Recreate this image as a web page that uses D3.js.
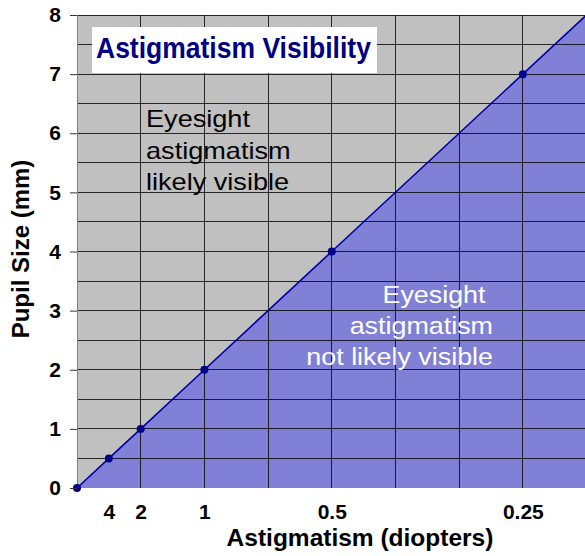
<!DOCTYPE html>
<html>
<head>
<meta charset="utf-8">
<script src="https://cdn.jsdelivr.net/npm/d3@7"></script>
<style>
  body { margin: 0; background: #fff; }
  text { font-family: "Liberation Sans", Arial, sans-serif; }
</style>
</head>
<body>
<svg id="chart" width="585" height="556"></svg>
<script>
// axis position (linear) and pupil size for each point on the boundary line
const axisPos = [0, 0.5, 1, 2, 4, 7, 8]
const pupilSize = [0, 0.5, 1, 2, 4, 7, 8]

// x ticks: diopter labels placed at axis positions
const diopterTicks = [0.5, 1, 2, 4, 7]
const diopterLabels = ['4', '2', '1', '0.5', '0.25']
const yTicks = [0, 1, 2, 3, 4, 5, 6, 7, 8]

const likelyLines = ['Eyesight', 'astigmatism', 'likely visible']
const notLikelyLines = ['Eyesight ', 'astigmatism', 'not likely visible']

const width = 585
const height = 556
const margin = { top: 15, right: -1.5, bottom: 68, left: 77 }

const svg = d3.select('#chart')

const x = d3.scaleLinear().domain([0, 8]).range([margin.left, width - margin.right])
const y = d3.scaleLinear().domain([0, 8]).range([height - margin.bottom, margin.top])

const points = axisPos.map((p, i) => ({ x: p, y: pupilSize[i] }))

// plot background
svg.append('rect')
  .attr('x', x(0)).attr('y', y(8))
  .attr('width', x(8) - x(0)).attr('height', y(0) - y(8))
  .attr('fill', '#c0c0c0')

// area under the line
const area = d3.area()
  .x(d => x(d.x))
  .y0(y(0))
  .y1(d => y(d.y))

svg.append('path')
  .datum(points)
  .attr('d', area)
  .attr('fill', '#8080d6')

// grid
const grid = svg.append('g')
  .attr('stroke', '#000')
  .attr('stroke-opacity', 0.8)
  .attr('shape-rendering', 'crispEdges')

grid.selectAll('line.h')
  .data(d3.range(0.5, 8.01, 0.5))
  .enter().append('line')
  .attr('class', 'h')
  .attr('x1', x(0)).attr('x2', x(8))
  .attr('y1', d => y(d)).attr('y2', d => y(d))

grid.selectAll('line.v')
  .data(d3.range(1, 8))
  .enter().append('line')
  .attr('class', 'v')
  .attr('x1', d => x(d)).attr('x2', d => x(d))
  .attr('y1', y(0)).attr('y2', y(8))

// left axis line
svg.append('line')
  .attr('x1', x(0)).attr('x2', x(0))
  .attr('y1', y(0)).attr('y2', y(8))
  .attr('stroke', '#808080')
  .attr('shape-rendering', 'crispEdges')

// boundary line and markers
const line = d3.line()
  .x(d => x(d.x))
  .y(d => y(d.y))

svg.append('path')
  .datum(points)
  .attr('d', line)
  .attr('fill', 'none')
  .attr('stroke', '#0000a8')
  .attr('stroke-width', 1.6)

svg.selectAll('circle.pt')
  .data(points.filter(d => d.x < 8))
  .enter().append('circle')
  .attr('class', 'pt')
  .attr('cx', d => x(d.x))
  .attr('cy', d => y(d.y))
  .attr('r', 4)
  .attr('fill', '#00008b')

// y axis
const yAxis = svg.append('g')
  .attr('transform', `translate(${x(0)},0)`)
  .call(d3.axisLeft(y).tickValues(yTicks).tickSize(7).tickPadding(9).tickFormat(d3.format('d')))

yAxis.select('.domain').remove()
yAxis.selectAll('.tick line').attr('stroke', '#333')
yAxis.selectAll('.tick text')
  .attr('font-size', 21)
  .attr('font-weight', 'bold')
  .attr('fill', '#000')
  .style('font-family', '"Liberation Sans", Arial, sans-serif')

// x axis labels
const xAxis = svg.append('g')
  .attr('transform', `translate(0,${y(0)})`)
  .call(d3.axisBottom(x).tickValues(diopterTicks).tickSize(0).tickPadding(0)
    .tickFormat((d, i) => diopterLabels[i]))

xAxis.select('.domain').remove()
xAxis.selectAll('.tick text')
  .attr('y', 31)
  .attr('dy', 0)
  .attr('font-size', 21)
  .attr('font-weight', 'bold')
  .attr('fill', '#000')
  .style('font-family', '"Liberation Sans", Arial, sans-serif')

// axis titles
svg.append('text')
  .attr('x', 360).attr('y', 546)
  .attr('text-anchor', 'middle')
  .attr('font-size', 24.5)
  .attr('font-weight', 'bold')
  .text('Astigmatism (diopters)')

svg.append('text')
  .attr('transform', 'translate(29,249) rotate(-90)')
  .attr('text-anchor', 'middle')
  .attr('font-size', 24)
  .attr('font-weight', 'bold')
  .text('Pupil Size (mm)')

// title box
svg.append('rect')
  .attr('x', 92).attr('y', 27)
  .attr('width', 285).attr('height', 46)
  .attr('fill', '#fff')

svg.append('text')
  .attr('transform', 'translate(96,58) scale(1,1.08)')
  .attr('font-size', 26.5)
  .attr('font-weight', 'bold')
  .attr('fill', '#000080')
  .text('Astigmatism Visibility')

// region annotations
svg.append('g')
  .attr('transform', 'translate(146,127) scale(1.13,1)')
  .selectAll('text')
  .data(likelyLines)
  .enter().append('text')
  .attr('y', (d, i) => i * 31.7)
  .attr('font-size', 24)
  .attr('fill', '#000')
  .text(d => d)

svg.append('g')
  .attr('transform', 'translate(493,303) scale(1.12,1)')
  .selectAll('text')
  .data(notLikelyLines)
  .enter().append('text')
  .attr('y', (d, i) => i * 31)
  .attr('text-anchor', 'end')
  .attr('font-size', 24)
  .attr('fill', '#fff')
  .style('white-space', 'pre')
  .text(d => d)
</script>
</body>
</html>
